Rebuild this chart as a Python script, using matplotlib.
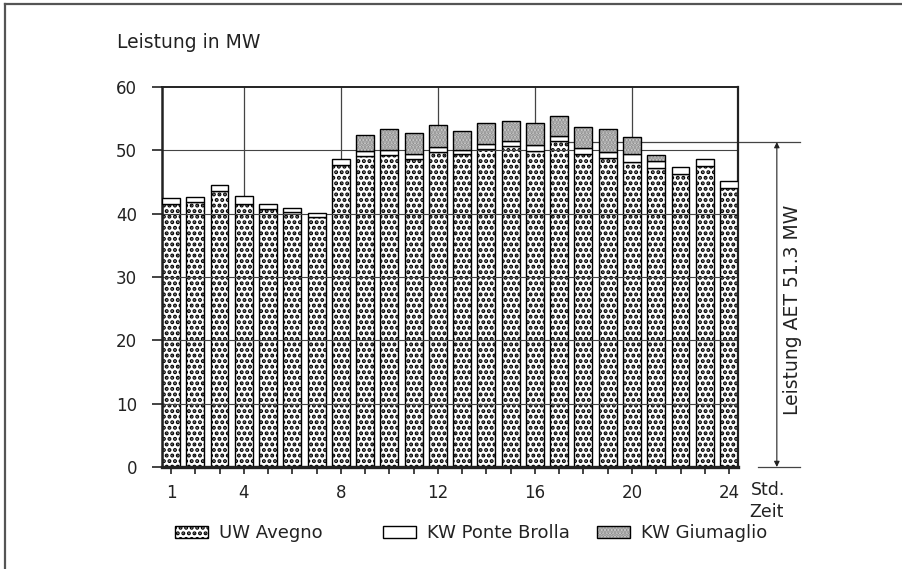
import matplotlib
matplotlib.use('Agg')
import matplotlib.pyplot as plt
from matplotlib.patches import Patch
from matplotlib.lines import Line2D
import numpy as np

plt.rcParams['font.family'] = ['DejaVu Sans']
plt.rcParams['hatch.linewidth'] = 2.0

# Werte je Stunde (MW)
hours = list(range(1, 25))
uw_avegno = [41.6, 41.8, 43.6, 41.6, 40.7, 40.2, 39.4, 47.7, 49.1, 49.3, 48.6, 49.7,
             49.4, 50.2, 50.7, 49.9, 51.4, 49.4, 48.8, 48.2, 47.2, 46.3, 47.6, 44.0]
kw_ponte_brolla = [0.9, 0.9, 0.9, 1.2, 0.9, 0.7, 0.7, 0.9, 0.8, 0.8, 0.8, 0.8,
                   0.7, 0.8, 0.8, 0.9, 0.9, 1.0, 1.0, 1.2, 1.1, 1.0, 1.0, 1.2]
kw_giumaglio = [0, 0, 0, 0, 0, 0, 0, 0, 2.5, 3.3, 3.4, 3.5,
                3.0, 3.3, 3.2, 3.5, 3.1, 3.3, 3.6, 2.7, 0.9, 0, 0, 0]
aet_peak = 51.3
xtick_labels = {1: '1', 4: '4', 8: '8', 12: '12', 16: '16', 20: '20', 24: '24'}

fig = plt.figure(figsize=(9.02, 5.69), dpi=100)
ax = fig.add_axes([0.1796, 0.1793, 0.8182 - 0.1796, 0.8471 - 0.1793])

x = np.array(hours)
av = np.array(uw_avegno)
pb = np.array(kw_ponte_brolla)
gi = np.array(kw_giumaglio)
w = 0.74
ink = '#222222'
gi_face = '#d2d2d2'
gi_dots = '#8c8c8c'

# vertical grid behind the bars
for h in [4, 8, 12, 16, 20]:
    ax.axvline(h, color='#444444', lw=0.9, zorder=0.5)

ax.bar(x, av, width=w, facecolor='white', edgecolor='black', hatch='...',
       lw=1.0, zorder=2)
ax.bar(x, pb, width=w, bottom=av, facecolor='white', edgecolor='black',
       lw=1.0, zorder=3)
mask = gi > 0
# Giumaglio: grey stipple, then black outline on top
ax.bar(x[mask], gi[mask], width=w, bottom=(av + pb)[mask], facecolor=gi_face,
       edgecolor=gi_dots, hatch='.....', lw=0, zorder=3)
ax.bar(x[mask], gi[mask], width=w, bottom=(av + pb)[mask], fill=False,
       edgecolor='black', lw=1.0, zorder=3.1)

# horizontal grid
for v in [10, 20, 30, 40, 50]:
    ax.axhline(v, color='#444444', lw=0.8, zorder=2.5)

ax.set_xlim(0.63, 24.37)
ax.set_ylim(0, 60)
ax.set_yticks([0, 10, 20, 30, 40, 50, 60])
ax.set_xticks(hours)
ax.set_xticklabels([xtick_labels.get(h, '') for h in hours])
ax.tick_params(axis='y', direction='out', length=7, width=1.2, pad=11,
               labelsize=12, color=ink, labelcolor=ink)
ax.tick_params(axis='x', direction='out', length=5, width=1.2, pad=7,
               labelsize=12, color=ink, labelcolor=ink)
for s, lw in [('left', 1.8), ('bottom', 2.4), ('top', 1.4), ('right', 1.6)]:
    ax.spines[s].set_linewidth(lw)
    ax.spines[s].set_color(ink)

# AET reference line and dimension arrow
ax.plot([17.38, 26.93], [aet_peak, aet_peak], color='#444444', lw=0.9,
        clip_on=False, zorder=1)
ax.plot([25.2, 26.93], [0, 0], color='#444444', lw=0.9, clip_on=False)
ax.annotate('', xy=(25.97, aet_peak), xytext=(25.97, 0),
            arrowprops=dict(arrowstyle='<|-|>', color=ink, lw=0.8,
                            mutation_scale=8, shrinkA=0, shrinkB=0),
            annotation_clip=False)
ax.text(26.62, 24.8, 'Leistung AET 51.3 MW', rotation=90, ha='center',
        va='center', fontsize=13.5, color=ink)

# axis texts
fig.text(117 / 902, 1 - 42 / 569, 'Leistung in MW', ha='left', va='center',
         fontsize=13.5, color=ink)
fig.text(751 / 902, 1 - 490 / 569, 'Std.', ha='left', va='center',
         fontsize=12.5, color=ink)
fig.text(749 / 902, 1 - 512 / 569, 'Zeit', ha='left', va='center',
         fontsize=12.5, color=ink)

# legend entries
entries = [
    ([Patch(facecolor='white', edgecolor='black', hatch='...')], 'UW Avegno', 175),
    ([Patch(facecolor='white', edgecolor='black')], 'KW Ponte Brolla', 383),
    ([Patch(facecolor=gi_face, edgecolor=gi_dots, hatch='.....', lw=0),
      Patch(fill=False, edgecolor='black')], 'KW Giumaglio', 597),
]
for handle, label, px in entries:
    leg = fig.legend([tuple(handle)], [label], loc='center left',
                     bbox_to_anchor=(px / 902, 1 - 533 / 569), frameon=False,
                     fontsize=13, handlelength=1.85, handleheight=0.65,
                     handletextpad=0.6, borderpad=0, borderaxespad=0)
    for t in leg.get_texts():
        t.set_color(ink)

# outer frame (top and left)
fig.add_artist(Line2D([5 / 902, 1.0], [1 - 4 / 569, 1 - 4 / 569],
                      color='#555555', lw=1.6, transform=fig.transFigure))
fig.add_artist(Line2D([5 / 902, 5 / 902], [0, 1 - 4 / 569],
                      color='#555555', lw=1.6, transform=fig.transFigure))

fig.savefig('out.png', dpi=100)
